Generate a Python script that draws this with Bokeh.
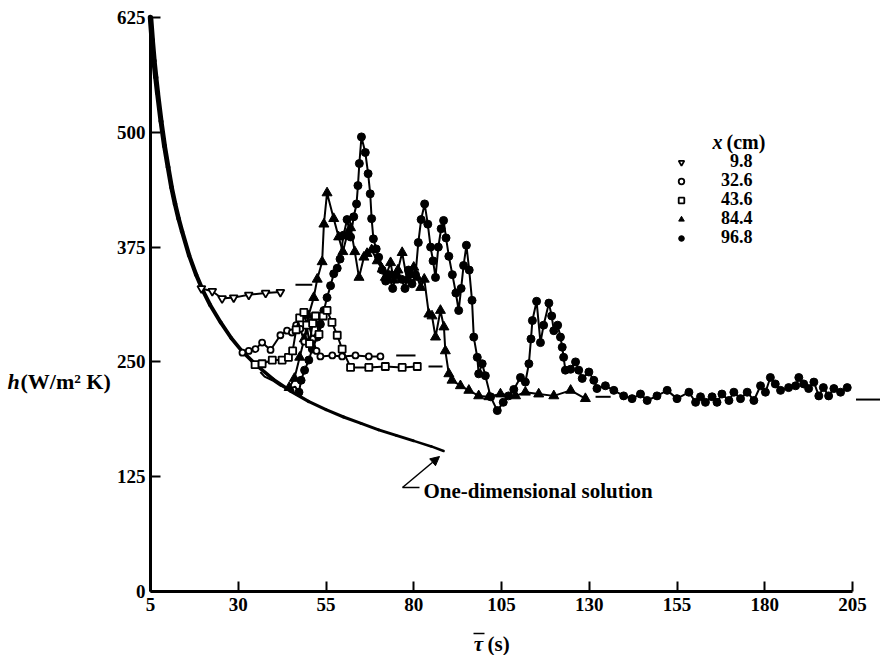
from bokeh.plotting import figure
from bokeh.models import (Range1d, FixedTicker, Label, Arrow, NormalHead,
                          Legend, LegendItem)
from bokeh.embed import file_html
from bokeh.resources import INLINE

# ---------------- data ----------------
x_ticks = [5, 30, 55, 80, 105, 130, 155, 180, 205]
y_ticks = [0, 125, 250, 375, 500, 625]

# one-dimensional solution
t_1d = [5, 5.5, 6, 6.5, 7, 8, 9, 10, 11, 12, 13, 14, 16, 18, 20, 22, 25, 28,
        31, 35, 40, 45, 50, 55, 60, 65, 70, 75, 80, 85, 88.5]
h_1d = [625, 600, 578, 560, 543, 512, 485, 462, 440, 422, 406, 392, 366, 345,
        327, 312, 293, 276, 262, 247, 231, 218, 207, 198, 190, 183, 176, 170,
        164, 158, 153]

# x = 9.8 cm
t_98 = [19.5, 22.6, 25.4, 28.7, 33.0, 37.8, 42.0]
h_98 = [330, 327, 319, 320, 323, 325, 326]

# x = 32.6 cm
t_326 = [31.2, 33.0, 34.9, 36.8, 39.2, 42.0, 43.9, 45.3, 46.5, 47.7, 48.8,
         50.0, 51.2, 52.3, 53.4, 56.8, 59.6, 63.4, 67.2, 70.5]
h_326 = [260, 262, 264, 271, 263, 279, 284, 282, 290, 286, 272, 292, 275,
         262, 256, 257, 256, 257, 256, 256]

# x = 43.6 cm
t_436 = [34.8, 36.8, 39.7, 42.5, 44.3, 45.5, 46.5, 47.5, 48.7, 49.5, 50.3,
         51.2, 52.0, 53.0, 54.2, 55.3, 56.7, 58.2, 59.6, 62.0, 67.2, 71.9,
         76.7, 81.0]
h_436 = [247, 248, 252, 252, 255, 262, 285, 298, 304, 290, 270, 292, 300,
         280, 300, 306, 293, 279, 264, 244, 244, 245, 244, 245]

# x = 84.4 cm
t_844 = [44.5, 46.0, 47.5, 48.8, 50.0, 51.5, 52.5, 53.9, 54.4, 55.3, 57.2,
         58.6, 59.8, 61.0, 62.0, 63.2, 64.4, 65.8, 66.7, 68.0, 69.6, 71.0,
         71.9, 73.4, 74.3, 75.5, 76.7, 78.1, 79.0, 80.0, 81.0, 82.0, 83.0,
         84.3, 85.2, 86.2, 87.6, 88.6, 89.0, 90.0, 90.9, 93.3, 95.7, 98.5,
         101.4, 104.7, 109.0, 111.8, 115.6, 119.9, 124.7, 128.9]
h_844 = [222, 232, 255, 275, 300, 320, 340, 359, 400, 434, 406, 386, 370,
         388, 396, 370, 342, 364, 368, 372, 360, 351, 342, 358, 339, 350,
         369, 339, 345, 353, 342, 331, 340, 302, 300, 277, 306, 288, 262,
         237, 230, 224, 219, 213, 212, 215, 213, 217, 215, 213, 219, 210]

# x = 96.8 cm
t_968 = [36.3, 37.5, 39.7, 42.0, 44.9, 46.2, 47.3, 47.9, 48.9, 50.1, 51.1,
         52.5, 53.4, 54.4, 55.3, 56.3, 57.2, 58.2, 59.0, 60.0, 61.0, 62.0,
         62.9, 63.7, 64.1, 64.5, 65.1, 66.2, 67.0, 67.6, 68.0, 68.5, 69.3,
         70.0, 71.0, 72.0, 73.0, 74.0, 75.0, 76.5, 77.5, 78.5, 79.5, 80.5,
         81.3, 82.1, 83.1, 84.0, 84.8, 85.5, 86.2, 87.0, 87.8, 88.5, 89.2,
         90.0, 91.0, 92.0, 92.8, 93.5, 94.2, 95.0, 95.8, 96.6, 97.1, 98.1,
         98.5, 99.5, 100.4, 101.9, 103.8, 105.5, 107.0, 108.5, 110.4, 111.8,
         112.8, 113.4, 113.8, 115.0, 116.1, 117.0, 118.5, 119.3, 119.9, 121.0,
         121.8, 122.3, 122.7, 123.2, 124.7, 126.1, 127.0, 128.0, 129.9, 131.3,
         132.2, 134.6, 137.0, 139.8, 142.2, 144.6, 146.5, 149.3, 152.2, 155.0,
         158.4, 160.3, 161.7, 163.1, 165.0, 166.4, 167.8, 169.8, 171.2, 173.1,
         175.0, 176.9, 178.8, 180.2, 181.6, 183.0, 184.5, 186.8, 188.8, 189.7,
         191.1, 192.5, 194.0, 195.4, 196.7, 198.2, 199.7, 201.6, 203.5]
h_968 = [239, 234, 230, 224, 221, 223, 217, 230, 241, 252, 264, 277, 291,
         306, 320, 333, 346, 352, 362, 388, 405, 386, 408, 422, 442, 466,
         495, 478, 455, 433, 406, 384, 373, 364, 350, 338, 345, 330, 345,
         340, 330, 350, 335, 345, 380, 405, 422, 400, 375, 360, 342, 375,
         395, 404, 385, 365, 345, 325, 306, 330, 355, 377, 350, 317, 277,
         255, 237, 248, 235, 212, 197, 206, 213, 220, 233, 228, 248, 275,
         295, 316, 271, 290, 314, 300, 284, 290, 277, 266, 255, 241, 242,
         250, 241, 232, 239, 230, 221, 224, 219, 213, 210, 215, 208, 213,
         219, 210, 217, 206, 212, 206, 212, 206, 215, 208, 217, 210, 217,
         208, 224, 217, 233, 226, 219, 222, 224, 233, 226, 221, 228, 213,
         222, 213, 221, 217, 222]
lead_968 = 6  # first points drawn as a bare line (no symbols)

# short dashes after each record (steady values)
dash_t0 = [46.3, 75.0, 84.2, 131.8, 206.0]
dash_t1 = [51.1, 80.5, 88.2, 136.1, 213.0]
dash_h = [334, 257, 245, 212, 209]

legend_labels = ["\u20079.8", "32.6", "43.6", "84.4", "96.8"]

# ---------------- layout helpers (canvas pixels -> data) ----------------
W, H = 880, 655
X0_PX, X1_PX = 150, 852      # pixel of t = 5 and t = 205
Y0_PX, Y1_PX = 591, 17       # pixel of h = 0 and h = 625
SX = (X1_PX - X0_PX) / 200.0
SY = (Y0_PX - Y1_PX) / 625.0


def px_x(px):
    return 5 + (px - X0_PX) / SX


def px_y(py):
    return (Y0_PX - py) / SY


FONT = "Liberation Serif"

p = figure(width=W, height=H, x_range=Range1d(px_x(0), px_x(W)),
           y_range=Range1d(px_y(H), px_y(0)), output_backend="svg",
           toolbar_location=None, min_border=0, min_border_left=0,
           min_border_right=0, min_border_top=0, min_border_bottom=0)
p.outline_line_color = None
p.grid.visible = False
p.background_fill_color = "white"
p.border_fill_color = "white"

for ax in (p.xaxis[0], p.yaxis[0]):
    ax.axis_line_width = 3
    ax.axis_line_color = "black"
    ax.major_tick_in = 10
    ax.major_tick_out = 0
    ax.major_tick_line_width = 2
    ax.minor_tick_line_color = None
    ax.major_label_text_font = FONT
    ax.major_label_text_font_style = "bold"
    ax.major_label_text_font_size = "19px"
    ax.major_label_text_color = "black"
p.xaxis.ticker = FixedTicker(ticks=x_ticks)
p.yaxis.ticker = FixedTicker(ticks=y_ticks)
p.xaxis.bounds = (5, 205)
p.yaxis.bounds = (0, 625)
p.xaxis.fixed_location = 0
p.yaxis.fixed_location = 5
p.xaxis.major_label_standoff = 6
p.yaxis.major_label_standoff = 5

# one-dimensional solution: tapered thick curve
n = len(t_1d) - 1
widths = [5.5 - 3.0 * i / (n - 1) for i in range(n)]
p.segment(x0=t_1d[:-1], y0=h_1d[:-1], x1=t_1d[1:], y1=h_1d[1:],
          line_width=widths, line_color="black", line_cap="round")

# records
lw = 2
p.line(t_844, h_844, line_color="black", line_width=lw)
r844 = p.scatter(t_844, h_844, marker="triangle", size=10, fill_color="black",
                 line_color="black")
p.line(t_968, h_968, line_color="black", line_width=lw)
r968 = p.scatter(t_968[lead_968:], h_968[lead_968:], marker="circle", size=8,
                 fill_color="black", line_color="black")
p.line(t_98, h_98, line_color="black", line_width=lw)
r98 = p.scatter(t_98, h_98, marker="inverted_triangle", size=8,
                fill_color="white", line_color="black", line_width=1.8)
p.line(t_326, h_326, line_color="black", line_width=lw)
r326 = p.scatter(t_326, h_326, marker="circle", size=6, fill_color="white",
                 line_color="black", line_width=1.8)
p.line(t_436, h_436, line_color="black", line_width=lw)
r436 = p.scatter(t_436, h_436, marker="square", size=7, fill_color="white",
                 line_color="black", line_width=1.8)

p.segment(x0=dash_t0, y0=dash_h, x1=dash_t1, y1=dash_h, line_color="black",
          line_width=2)

# legend: one row per Legend so the row pitch matches the original
row_px = [161, 180, 199, 218, 237]
for lab, r, ry in zip(legend_labels, [r98, r326, r436, r844, r968], row_px):
    lg = Legend(items=[LegendItem(label=lab, renderers=[r])],
                location=(674, H - ry - 11), orientation="vertical")
    lg.label_text_font = FONT
    lg.label_text_font_style = "bold"
    lg.label_text_font_size = "18px"
    lg.label_text_color = "black"
    lg.glyph_width = 14
    lg.glyph_height = 14
    lg.label_height = 18
    lg.label_standoff = 33
    lg.spacing = 0
    lg.padding = 0
    lg.margin = 0
    lg.border_line_color = None
    lg.background_fill_alpha = 0
    p.add_layout(lg)


def text(px, py, s, style="bold", align="left", size="20px"):
    p.add_layout(Label(x=px_x(px), y=px_y(py), text=s, text_font=FONT,
                       text_font_style=style, text_font_size=size,
                       text_color="black", text_baseline="middle",
                       text_align=align))


def rule(px0, py0, px1, py1, width=1.5, head=None):
    p.add_layout(Arrow(x_start=px_x(px0), y_start=px_y(py0), x_end=px_x(px1),
                       y_end=px_y(py1), end=head, line_width=width))


# legend title: x (cm)
text(712, 141, "x", "bold italic", size="20px")
text(726, 141, "(cm)", size="20px")
# y axis title h(W/m² K)
text(7, 381, "h", "bold italic", size="22px")
text(20, 381, "(W/m² K)", size="22px")
# x axis title: tau with a bar, then (s)
text(478, 643, "τ", "bold italic", "center", size="21px")
rule(473, 633, 484, 633, width=1.5)
text(487, 643, "(s)", size="21px")
# one-dimensional solution annotation
text(423, 490, "One-dimensional solution", "bold", size="21px")
rule(402, 487, 419, 487)
rule(402, 487, 439, 456, head=NormalHead(size=9, fill_color="black"))

open("out.html", "w").write(file_html(p, INLINE))
